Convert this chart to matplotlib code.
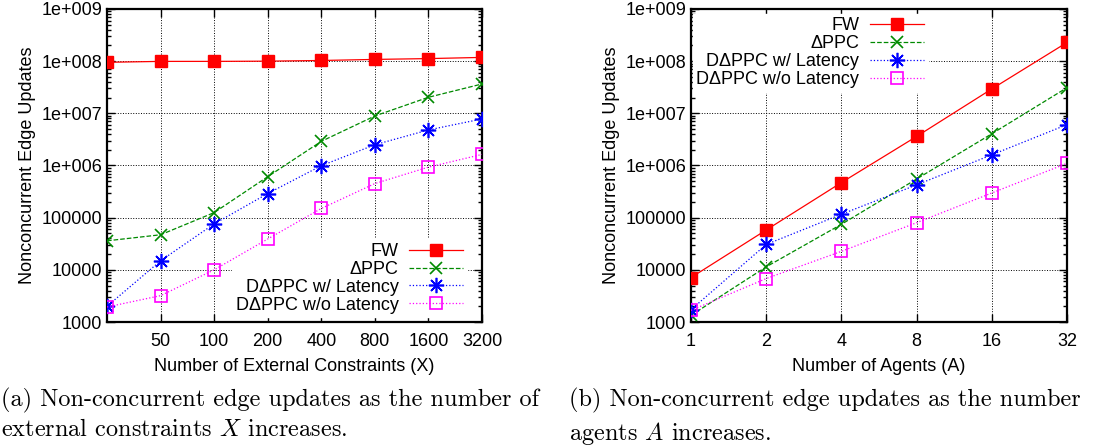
import numpy as np
import matplotlib
matplotlib.use('Agg')
import matplotlib.pyplot as plt
from matplotlib.ticker import FixedLocator, NullFormatter, LogLocator

# data
x_constraints = [25, 50, 100, 200, 400, 800, 1600, 3200]
x_tick_labels = ['50', '100', '200', '400', '800', '1600', '3200']
fw_a = [9.5e7, 9.9e7, 9.9e7, 1.0e8, 1.03e8, 1.08e8, 1.12e8, 1.18e8]
dppc_a = [3.6e4, 4.7e4, 1.25e5, 6.1e5, 2.9e6, 8.9e6, 2.03e7, 3.65e7]
ddppc_lat_a = [2.0e3, 1.49e4, 7.6e4, 2.9e5, 9.9e5, 2.5e6, 4.8e6, 7.8e6]
ddppc_nolat_a = [1.94e3, 3.2e3, 1.0e4, 3.9e4, 1.5e5, 4.5e5, 9.3e5, 1.63e6]

x_agents = [1, 2, 4, 8, 16, 32]
fw_b = [7.1e3, 5.8e4, 4.7e5, 3.6e6, 2.93e7, 2.28e8]
dppc_b = [1.34e3, 1.14e4, 7.45e4, 5.5e5, 4.05e6, 3.1e7]
ddppc_lat_b = [1.72e3, 3.06e4, 1.16e5, 4.25e5, 1.6e6, 6.07e6]
ddppc_nolat_b = [1.67e3, 6.8e3, 2.26e4, 8.0e4, 2.97e5, 1.1e6]

labels = ['FW', '\u0394PPC', 'D\u0394PPC w/ Latency', 'D\u0394PPC w/o Latency']
y_ticks = [1e3, 1e4, 1e5, 1e6, 1e7, 1e8, 1e9]
y_tick_labels = ['1000', '10000', '100000', '1e+006', '1e+007', '1e+008', '1e+009']

plt.rcParams['font.family'] = ['Liberation Sans', 'DejaVu Sans']
plt.rcParams['mathtext.fontset'] = 'cm'
plt.rcParams['axes.unicode_minus'] = False

styles = [
    dict(color='#ff0000', ls='-', marker='s', ms=8, mfc='#ff0000', mec='#ff0000'),
    dict(color='#008a00', ls='--', marker='x', ms=9, mew=1.2),
    dict(color='#0000ff', ls=':', marker=(8, 2, 0), ms=11, mew=1.2),
    dict(color='#ff00ff', ls=':', marker='s', ms=9, mfc='none', mew=1.2),
]


def draw(ax, x, series, ticks, tick_labels, xlabel):
    for y, lab, st in zip(series, labels, styles):
        ax.plot(x, y, lw=0.9, label=lab, zorder=3, **st)
    ax.set_xscale('log', base=2)
    ax.set_yscale('log')
    ax.set_xlim(x[0], x[-1])
    ax.set_ylim(1e3, 1e9)
    ax.xaxis.set_major_locator(FixedLocator(ticks))
    ax.set_xticklabels(tick_labels)
    ax.xaxis.set_minor_locator(FixedLocator([]))
    ax.yaxis.set_major_locator(FixedLocator(y_ticks))
    ax.set_yticklabels(y_tick_labels)
    ax.yaxis.set_minor_locator(LogLocator(base=10, subs=np.arange(2, 10)))
    ax.yaxis.set_minor_formatter(NullFormatter())
    ax.tick_params(which='both', direction='in', top=True, right=True, labelsize=13)
    ax.tick_params(which='major', length=6, width=1)
    ax.tick_params(which='minor', length=3, width=1)
    ax.tick_params(axis='x', pad=8)
    for s in ax.spines.values():
        s.set_linewidth(1.6)
    ax.grid(True, which='major', color='black', ls=':', lw=0.7)
    ax.set_axisbelow(True)
    ax.set_xlabel(xlabel, fontsize=13, labelpad=6)
    ax.set_ylabel('Nonconcurrent Edge Updates', fontsize=13, labelpad=4)


fig = plt.figure(figsize=(11.17, 4.45), dpi=100)
ax1 = fig.add_axes([0.0958, 0.2764, 0.3357, 0.7034])
ax2 = fig.add_axes([0.6186, 0.2764, 0.3366, 0.7034])

draw(ax1, x_constraints, [fw_a, dppc_a, ddppc_lat_a, ddppc_nolat_a],
     x_constraints[1:], x_tick_labels, 'Number of External Constraints (X)')
draw(ax2, x_agents, [fw_b, dppc_b, ddppc_lat_b, ddppc_nolat_b],
     x_agents, [str(v) for v in x_agents], 'Number of Agents (A)')

leg_kw = dict(markerfirst=False, handlelength=3.0, labelspacing=0.05, fontsize=13,
              frameon=True, fancybox=False, edgecolor='white', facecolor='white',
              framealpha=1, borderpad=0.2, handletextpad=0.6, borderaxespad=0)
leg1 = ax1.legend(loc='lower right', bbox_to_anchor=(0.96, 0.015), **leg_kw)
leg2 = ax2.legend(loc='upper right', bbox_to_anchor=(0.63, 0.985), **leg_kw)
# legend hides the grid but sits under the data, like gnuplot's key
leg1.set_zorder(2)
leg2.set_zorder(2)

cap_kw = dict(fontsize=17.5, family='cmr10', va='top', ha='left', linespacing=1.35)
fig.text(0.001, 0.128, '(a) Non-concurrent edge updates as the number of\n'
         'external constraints $X$ increases.', **cap_kw)
fig.text(0.5095, 0.128, '(b) Non-concurrent edge updates as the number\n'
         'agents $A$ increases.', **cap_kw)

fig.savefig('out.png', dpi=100)
